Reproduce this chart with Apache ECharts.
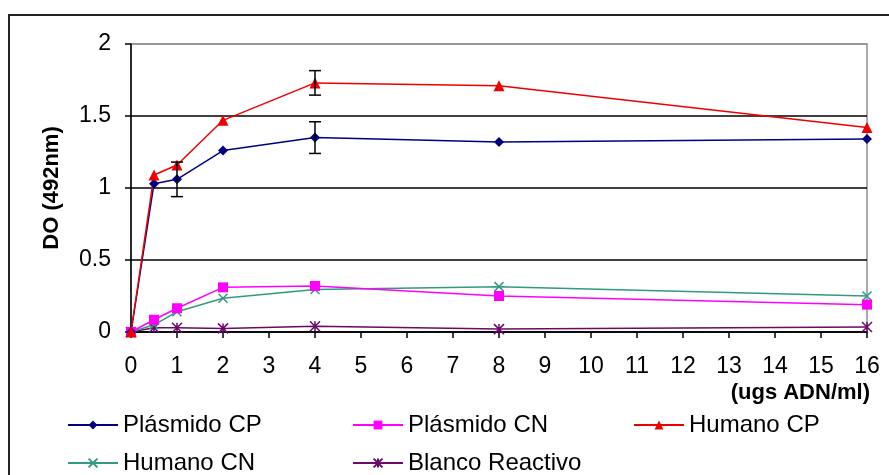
<!DOCTYPE html>
<html><head><meta charset="utf-8">
<script src="https://cdn.jsdelivr.net/npm/echarts@6/dist/echarts.min.js"></script>
<style>html,body{margin:0;padding:0;background:#fff}#c{width:889px;height:475px}</style>
</head><body><div id="c"></div>
<script>
// ---- data ----
const xValues = [0, 0.5, 1, 2, 4, 8, 16];
const plasmidoCP = [0, 1.03, 1.06, 1.26, 1.35, 1.32, 1.34];
const plasmidoCN = [0, 0.085, 0.165, 0.31, 0.32, 0.25, 0.19];
const humanoCP = [0, 1.09, 1.16, 1.47, 1.73, 1.71, 1.42];
const humanoCN = [0, 0.05, 0.14, 0.235, 0.295, 0.315, 0.25];
const blanco = [0, 0.03, 0.03, 0.025, 0.04, 0.02, 0.035];
const plasmidoCPErr = [0, 0, 0.12, 0, 0.11, 0, 0];
const humanoCPErr = [0, 0, 0, 0, 0.085, 0, 0];
const seriesNames = ['Plásmido CP', 'Plásmido CN', 'Humano CP', 'Humano CN', 'Blanco Reactivo'];
const yAxisTitle = 'DO (492nm)';
const xAxisTitle = '(ugs ADN/ml)';

const FONT = '"Liberation Sans", Arial, sans-serif';
const pairs = arr => xValues.map((x, i) => [x, arr[i]]);
const errData = (vals, errs) => xValues.map((x, i) => [x, vals[i], errs[i]]).filter(d => d[2] > 0);

const chart = echarts.init(document.getElementById('c'), null, {renderer: 'canvas'});

function lineSeries(name, data, color, symbol, size, extra) {
  return Object.assign({
    name, type: 'line', data: pairs(data), symbol, symbolSize: size,
    itemStyle: {color: color},
    lineStyle: {color: color, width: 1.5},
    emphasis: {disabled: true}, z: 3
  }, extra || {});
}

function errSeries(data) {
  return {
    type: 'custom', name: 'err', data: data, z: 4, silent: true,
    renderItem: function (params, api) {
      const x = api.value(0), y = api.value(1), e = api.value(2);
      const top = api.coord([x, y + e]);
      const bot = api.coord([x, y - e]);
      const w = 6;
      const st = {stroke: '#000', lineWidth: 1.5};
      return {type: 'group', children: [
        {type: 'line', shape: {x1: top[0], y1: top[1], x2: bot[0], y2: bot[1]}, style: st},
        {type: 'line', shape: {x1: top[0] - w, y1: top[1], x2: top[0] + w, y2: top[1]}, style: st},
        {type: 'line', shape: {x1: bot[0] - w, y1: bot[1], x2: bot[0] + w, y2: bot[1]}, style: st}
      ]};
    }
  };
}

const legendPos = [[67, 413], [352, 413], [633, 413], [67, 451], [352, 451]];
const legends = seriesNames.map((n, i) => ({
  data: [n], left: legendPos[i][0], top: legendPos[i][1], padding: 0,
  itemWidth: 50, itemHeight: 11, selectedMode: false,
  textStyle: {fontFamily: FONT, fontSize: 24, color: '#000', lineHeight: 24}
}));

const option = {
  animation: false,
  backgroundColor: '#fff',
  grid: {left: 131, right: 22, top: 44, bottom: 143, show: true, borderColor: '#909090', borderWidth: 1.5, containLabel: false},
  legend: legends,
  xAxis: {
    type: 'value', min: 0, max: 16, interval: 1,
    axisLine: {show: true, onZero: false, lineStyle: {color: '#000', width: 1.5}},
    axisTick: {show: true, length: 6, lineStyle: {color: '#000', width: 1.5}},
    axisLabel: {fontFamily: FONT, fontSize: 23, color: '#000', margin: 23},
    splitLine: {show: false}
  },
  yAxis: {
    type: 'value', min: 0, max: 2, interval: 0.5,
    axisLine: {show: true, lineStyle: {color: '#000', width: 1.5}},
    axisTick: {show: true, length: 6, lineStyle: {color: '#000', width: 1.5}},
    axisLabel: {fontFamily: FONT, fontSize: 23, color: '#000', margin: 20},
    splitLine: {show: true, lineStyle: {color: ['#000', '#000', '#000', '#000', '#909090'], width: 1.5}}
  },
  graphic: [
    {type: 'rect', shape: {x: 9, y: 15, width: 920, height: 520}, style: {fill: 'none', stroke: '#222', lineWidth: 2}, z: -1, silent: true},
    {type: 'text', x: 52, y: 188, rotation: Math.PI / 2, style: {text: yAxisTitle, font: 'bold 22px ' + FONT, fill: '#000', align: 'center', verticalAlign: 'middle'}},
    {type: 'text', x: 870, y: 393, style: {text: xAxisTitle, font: 'bold 22px ' + FONT, fill: '#000', align: 'right', verticalAlign: 'middle'}}
  ],
  series: [
    lineSeries(seriesNames[4], blanco, '#6a0a6a', 'path://M0,0L10,10M10,0L0,10M5,0L5,10', 10,
      {itemStyle: {color: '#6a0a6a', borderColor: '#6a0a6a', borderWidth: 1.5}}),
    lineSeries(seriesNames[3], humanoCN, '#339980', 'path://M0,0L10,10M10,0L0,10', 9,
      {itemStyle: {color: '#339980', borderColor: '#339980', borderWidth: 1.5}}),
    lineSeries(seriesNames[1], plasmidoCN, '#ff00ff', 'rect', 10),
    lineSeries(seriesNames[0], plasmidoCP, '#000080', 'diamond', 10),
    lineSeries(seriesNames[2], humanoCP, '#ee0000', 'triangle', 11),
    errSeries(errData(plasmidoCP, plasmidoCPErr)),
    errSeries(errData(humanoCP, humanoCPErr))
  ]
};
chart.setOption(option);
</script>
</body></html>
